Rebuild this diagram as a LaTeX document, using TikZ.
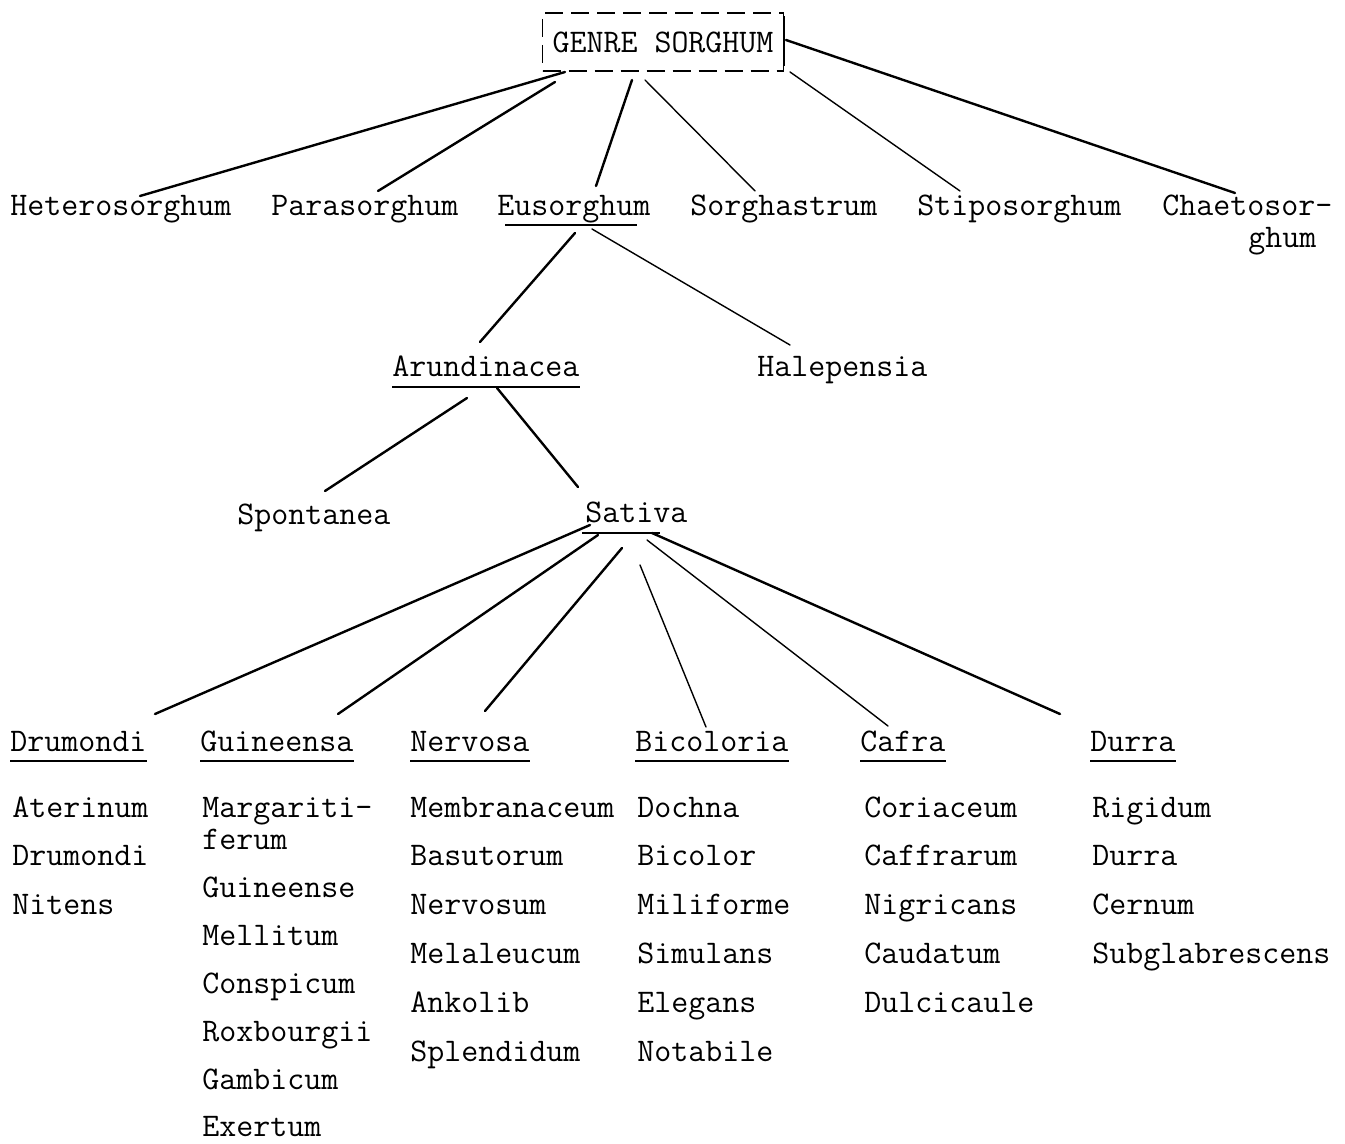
\documentclass[tikz,border=0pt]{standalone}
\usetikzlibrary{calc}
\tikzset{
  lbl/.style={font=\ttfamily\fontsize{16.5}{20}\selectfont, inner sep=0pt, anchor=base west},
  genrebox/.style={font=\ttfamily\fontsize{16.5}{20}\selectfont, draw, dash pattern=on 9pt off 4pt,
    line width=0.8pt, minimum width=120.5pt, minimum height=29pt, inner sep=0pt},
  branch/.style={line width=1.2pt, line cap=round},
  twig/.style={line width=0.7pt, line cap=round},
  uline/.style={line width=1.2pt},
}
\begin{document}
\begin{tikzpicture}[x=0.5pt, y=-0.5pt]
    \useasboundingbox (0,0) rectangle (1345,1144);

    % Genus
    \node[genrebox] (genre) at (663,42) {GENRE SORGHUM};
    \draw[line width=1pt] ($(genre.north east)+(0,4)$) -- ($(genre.south east)+(0,-6)$);

    % Sections
    \node[lbl] (het)   at (10,216)   {Heterosorghum};
    \node[lbl] (para)  at (271,216)  {Parasorghum};
    \node[lbl] (eu)    at (497,216)  {Eusorghum};
    \node[lbl] (sorgh) at (690,216)  {Sorghastrum};
    \node[lbl] (stipo) at (917,216)  {Stiposorghum};
    \node[lbl] (chae)  at (1162,216) {Chaetosor-};
    \node[lbl] (chae2) at (1248,248) {ghum};

    \draw[branch] ($(genre.center)+(-98,30)$)  -- ($(het.base west)+(130,-20)$);
    \draw[branch] ($(genre.center)+(-108,40)$) -- ($(para.base west)+(107,-25)$);
    \draw[branch] ($(genre.center)+(-31,38)$)  -- ($(eu.base west)+(99,-30)$);
    \draw[twig]   ($(genre.center)+(-18,38)$)  -- ($(sorgh.base west)+(65,-25)$);
    \draw[twig]   ($(genre.center)+(127,30)$)  -- ($(stipo.base west)+(43,-25)$);
    \draw[branch] ($(genre.center)+(123,-2)$)  -- ($(chae.base west)+(73,-23)$);

    % Eusorghum
    \draw[uline] ($(eu.base west)+(8,9)$) -- ($(eu.base west)+(140,9)$);
    \node[lbl] (arund) at (392,377) {Arundinacea};
    \node[lbl] (halep) at (757,377) {Halepensia};
    \draw[branch] ($(eu.base west)+(78,17)$) -- ($(arund.base west)+(88,-35)$);
    \draw[twig]   ($(eu.base west)+(95,13)$) -- ($(halep.base west)+(33,-32)$);

    % Arundinacea
    \node[lbl] (spont) at (237,525) {Spontanea};
    \node[lbl] (sat)   at (585,523) {Sativa};
    \draw[uline] ($(sat.base west)+(-3,10)$) -- ($(sat.base west)+(75,10)$);
    \draw[branch] ($(arund.base west)+(75,21)$)  -- ($(spont.base west)+(88,-34)$);
    \draw[branch] ($(arund.base west)+(105,11)$) -- ($(sat.base west)+(-7,-36)$);

    % Sativa races
    \node[lbl] (dru)   at (10,751)   {Drumondi};
    \node[lbl] (guin)  at (200,751)  {Guineensa};
    \node[lbl] (nerv)  at (410,751)  {Nervosa};
    \node[lbl] (bico)  at (635,751)  {Bicoloria};
    \node[lbl] (cafra) at (860,751)  {Cafra};
    \node[lbl] (durra) at (1090,751) {Durra};
    \foreach \n in {arund,dru,guin,nerv,bico,cafra,durra}
        \draw[uline] ($(\n.base west)+(0,10)$) -- ($(\n.base east)+(0,10)$);

    \draw[branch] ($(sat.base west)+(5,2)$)   -- ($(dru.base west)+(145,-37)$);
    \draw[branch] ($(sat.base west)+(13,12)$) -- ($(guin.base west)+(138,-37)$);
    \draw[branch] ($(sat.base west)+(37,25)$) -- ($(nerv.base west)+(75,-40)$);
    \draw[twig]   ($(sat.base west)+(55,42)$) -- ($(bico.base west)+(71,-24)$);
    \draw[twig]   ($(sat.base west)+(62,17)$) -- ($(cafra.base west)+(28,-25)$);
    \draw[branch] ($(sat.base west)+(67,10)$) -- ($(durra.base west)+(-30,-37)$);

    % Varieties
    \foreach \t [count=\i from 0] in {Aterinum,Drumondi,Nitens}
        \node[lbl] (dru-\i) at (12,{817+48.8*\i}) {\t};
    \node[lbl] (guin-0)  at (202,817) {Margariti-};
    \node[lbl] (guin-0b) at (202,849) {ferum};
    \foreach \t [count=\i from 1] in {Guineense,Mellitum,Conspicum,Roxbourgii,Gambicum,Exertum}
        \node[lbl] (guin-\i) at (202,{850+47.8*\i}) {\t};
    \foreach \t [count=\i from 0] in {Membranaceum,Basutorum,Nervosum,Melaleucum,Ankolib,Splendidum}
        \node[lbl] (nerv-\i) at (410,{817+48.8*\i}) {\t};
    \foreach \t [count=\i from 0] in {Dochna,Bicolor,Miliforme,Simulans,Elegans,Notabile}
        \node[lbl] (bico-\i) at (637,{817+48.8*\i}) {\t};
    \foreach \t [count=\i from 0] in {Coriaceum,Caffrarum,Nigricans,Caudatum,Dulcicaule}
        \node[lbl] (cafra-\i) at (864,{817+48.8*\i}) {\t};
    \foreach \t [count=\i from 0] in {Rigidum,Durra,Cernum,Subglabrescens}
        \node[lbl] (durra-\i) at (1092,{817+48.8*\i}) {\t};
\end{tikzpicture}
\end{document}
